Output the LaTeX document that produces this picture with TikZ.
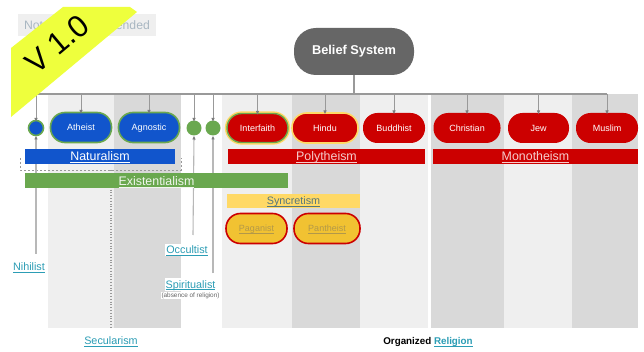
\documentclass[tikz,border=0pt]{standalone}
\usepackage{fontspec}
\setmainfont{Liberation Sans}
\usetikzlibrary{arrows.meta}
\definecolor{lightcol}{HTML}{EFEFEF}
\definecolor{darkcol}{HTML}{D9D9D9}
\definecolor{bblue}{HTML}{1155CC}
\definecolor{bgreen}{HTML}{6AA84F}
\definecolor{bred}{HTML}{CC0000}
\definecolor{byellow}{HTML}{FFD966}
\definecolor{borange}{HTML}{F1C232}
\definecolor{bgray}{HTML}{666666}
\definecolor{banner}{HTML}{EEFF3D}
\definecolor{linkc}{HTML}{2C9DB5}
\definecolor{rule}{HTML}{999999}
\definecolor{notetext}{HTML}{A9B7C2}
\newcommand{\lnk}[1]{\underline{\smash{#1}}}
\tikzset{
  pill/.style={rectangle,rounded corners=14.5pt,inner sep=0,outer sep=0,text=white,text height=8pt,text depth=1.6pt,font=\fontsize{9}{10}\selectfont},
  dotnode/.style={circle,inner sep=0,outer sep=0},
  barbox/.style={rectangle,inner sep=0,outer sep=0,text=white,text height=10pt,text depth=1.2pt,font=\fontsize{12.4}{14}\selectfont},
  linktext/.style={inner sep=1pt,text=linkc,text height=9pt,text depth=1.8pt,font=\fontsize{10.8}{12}\selectfont},
  feed/.style={draw=rule,line width=.9pt,-{Latex[length=4pt,width=3.5pt,color=bgray!85]}},
  railline/.style={draw=rule,line width=1.1pt},
  upline/.style={draw=darkcol!85!black,line width=1.1pt,-{Latex[length=4pt,width=3.5pt,color=bgray!85]}},
  guide/.style={draw=rule,line width=.8pt}
}
\begin{document}
\begin{tikzpicture}[x=1pt,y=-1pt]
\useasboundingbox (0,0) rectangle (644,352);
\fill[white] (0,0) rectangle (644,352);
% columns
\fill[lightcol] (48,94) rectangle (114,328);
\fill[darkcol] (114,94) rectangle (181,328);
\fill[lightcol] (222,94) rectangle (292,328);
\fill[darkcol] (292,94) rectangle (360,328);
\fill[lightcol] (360,94) rectangle (428,328);
\fill[darkcol] (431,94) rectangle (504,328);
\fill[lightcol] (504,94) rectangle (572,328);
\fill[darkcol] (572,94) rectangle (638,328);
% top
\node[rectangle,fill=lightcol,minimum width=138pt,minimum height=22pt,inner sep=0,text=notetext,font=\fontsize{12.2}{14}\selectfont] (note) at (87,25) {Not Yet Recommended};
\node[rectangle,rounded corners=22pt,fill=bgray,text=white,minimum width=120pt,minimum height=47pt,inner sep=0,outer sep=0,font=\bfseries\fontsize{12.8}{15}\selectfont] (belief) at (354,51.5) {Belief System};
% nodes
\node[dotnode,fill=bblue,draw=bgreen,line width=1.6pt,minimum size=15pt] (nat) at (36,128) {};
\node[pill,fill=bblue,draw=bgreen,line width=1.6pt,minimum width=61pt,minimum height=30pt] (atheist) at (81,127.5) {Atheist};
\node[pill,fill=bblue,draw=bgreen,line width=1.6pt,minimum width=61pt,minimum height=30pt] (agnostic) at (149,127.5) {Agnostic};
\node[dotnode,fill=bgreen,minimum size=15pt] (occ) at (194,128) {};
\node[dotnode,fill=bgreen,minimum size=15pt] (spi) at (213,128) {};
\node[pill,fill=bred,draw=bgreen,line width=1.4pt,minimum width=61pt,minimum height=29pt,preaction={draw=byellow,line width=4.2pt}] (interfaith) at (257.5,128) {Interfaith};
\node[pill,fill=bred,draw=byellow,line width=1.6pt,minimum width=66pt,minimum height=30pt] (hindu) at (325,128) {Hindu};
\node[pill,fill=bred,minimum width=62pt,minimum height=30pt] (buddhist) at (394,128) {Buddhist};
\node[pill,fill=bred,minimum width=67pt,minimum height=30pt] (christian) at (467,128) {Christian};
\node[pill,fill=bred,minimum width=61pt,minimum height=30pt] (jew) at (538.5,128) {Jew};
\node[pill,fill=bred,minimum width=62pt,minimum height=30pt] (muslim) at (607,128) {Muslim};
% dashed group and secularism guide
\coordinate (dashL) at (20,158);
\coordinate (dashR) at (181,158);
\coordinate (secTop) at (111,170);
\draw[guide,dash pattern=on 2pt off 2pt] (dashL) -- (20,170) -- (181,170) -- (dashR);
% labels
\node[linktext] (nihilist) at (29,267) {\lnk{Nihilist}};
\node[linktext,fill=white] (occultist) at (187,250) {\lnk{Occultist}};
\node[linktext,fill=white] (spiritualist) at (190.5,284.5) {\lnk{Spiritualist}};
\node[fill=white,inner sep=.5pt,text=bgray,font=\fontsize{6.4}{7}\selectfont] (absence) at (190.5,295.5) {(absence of religion)};
\node[linktext] (secularism) at (111,341) {\lnk{Secularism}};
\node[inner sep=0,text height=8pt,text depth=1.6pt,font=\fontsize{9.8}{12}\selectfont] (organized) at (428,341.5) {\textbf{Organized} \textcolor{linkc}{\textbf{\lnk{Religion}}}};
\draw[guide,dotted,line width=1.1pt] (secTop) -- (secularism.north |- 0,328);
\coordinate (nihEnd) at (36,254);
\coordinate (occEnd) at (193,235);
\coordinate (spiEnd) at (213,273);
\draw[upline] (nihEnd) -- (nat.south);
\draw[upline] (occEnd) -- (occ.south);
\draw[upline] (spiEnd) -- (spi.south);
% rail
\coordinate (rail) at (354,94);
\draw[railline] (nat.north |- rail) -- (muslim.north |- rail);
\draw[railline] (belief.south) -- (rail);
\foreach \n in {nat,atheist,agnostic,occ,spi,interfaith,hindu,buddhist,christian,jew,muslim}
  \draw[feed] (\n.north |- rail) -- ([yshift=-1.5pt]\n.north);
% bars
\node[barbox,fill=bblue,minimum width=150pt,minimum height=15pt] (naturalism) at (100,156.5) {\lnk{Naturalism}};
\node[barbox,fill=bgreen,minimum width=263pt,minimum height=15pt,text=white!90!bgreen,text height=10.6pt,text depth=1.6pt] (existentialism) at (156.5,181) {\lnk{Existentialism}};
\node[barbox,fill=bred,minimum width=197pt,minimum height=15pt,text=white!80!bred] (polytheism) at (326.5,156.5) {\lnk{Polytheism}};
\node[barbox,fill=bred,minimum width=205pt,minimum height=15pt,text=white!80!bred] (monotheism) at (535.5,156.5) {\lnk{Monotheism}};
\node[barbox,fill=byellow,minimum width=133pt,minimum height=14.5pt,text=bgray!70!linkc,text height=9pt,font=\fontsize{10.8}{12}\selectfont] (syncretism) at (293.5,201) {\lnk{Syncretism}};
\node[pill,fill=borange,draw=bred,line width=1.6pt,minimum width=61pt,minimum height=30pt,text=bgray!45!borange] (paganist) at (256.5,228.5) {\lnk{Paganist}};
\node[pill,fill=borange,draw=bred,line width=1.6pt,minimum width=66pt,minimum height=30pt,text=bgray!45!borange] (pantheist) at (327,228.5) {\lnk{Pantheist}};
% banner
\fill[banner] (11,117) -- (11,48) -- (63,7) -- (130,7) -- (137,12) -- cycle;
\node[rotate=40,inner sep=0,font=\fontsize{31}{34}\selectfont] (version) at (57,44) {V 1.0};
\end{tikzpicture}
\end{document}
